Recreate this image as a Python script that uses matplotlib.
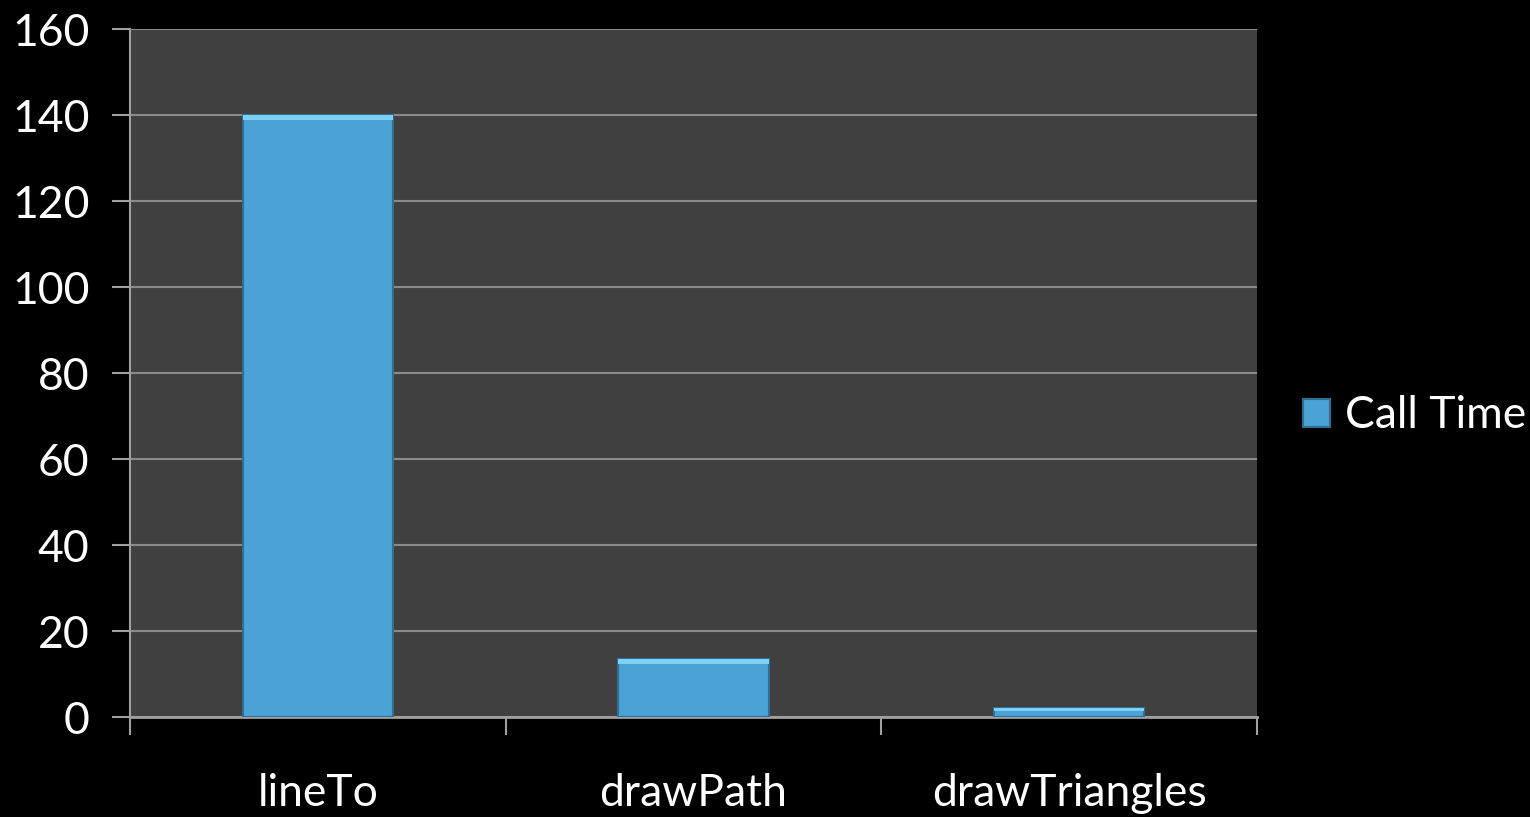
import numpy as np
import matplotlib
matplotlib.use("Agg")
import matplotlib.pyplot as plt

# data
categories = ["lineTo", "drawPath", "drawTriangles"]
call_time = [140, 13.5, 2.2]
series_name = "Call Time"

plt.rcParams['font.family'] = ['Lato', 'DejaVu Sans']

fig = plt.figure(figsize=(15.3, 8.17), dpi=100, facecolor="black")
ax = fig.add_axes([130/1530, 100/817, 1127/1530, 688/817])
ax.set_facecolor("#404040")

x = np.arange(len(categories))
bars = ax.bar(x, call_time, width=0.4, color="#4aa2d5", edgecolor="#2f6f93",
              linewidth=1.5, label=series_name, zorder=3)
# light bevel band on top of each bar
for b in bars:
    h = b.get_height()
    ax.bar(b.get_x() + b.get_width()/2, min(1.2, h*0.35), bottom=h - min(1.2, h*0.35),
           width=b.get_width(), color="#7fd0f5", linewidth=0, zorder=4)

ax.set_xlim(-0.5, len(categories) - 0.5)
ax.set_ylim(0, 160)
ax.set_yticks(np.arange(0, 161, 20))
ax.yaxis.grid(True, color="#8a8a8a", linewidth=1.5, zorder=0)
ax.set_axisbelow(True)

ax.set_xticks(x)
ax.set_xticklabels(categories)
ax.set_xticks(np.arange(-0.5, len(categories), 1.0), minor=True)
ax.tick_params(axis="x", which="major", length=0, pad=40, labelsize=32, labelcolor="white")
ax.tick_params(axis="x", which="minor", length=13, width=1.5, color="#a0a0a0")
ax.tick_params(axis="y", length=13, width=1.5, color="#a0a0a0", labelsize=32,
               labelcolor="white", pad=16)

for s in ["top", "right"]:
    ax.spines[s].set_visible(False)
ax.spines["left"].set_color("#a0a0a0")
ax.spines["left"].set_linewidth(1.5)
ax.spines["bottom"].set_color("#a0a0a0")
ax.spines["bottom"].set_linewidth(2)

leg = fig.legend(handles=[bars], labels=[series_name], loc="center left",
                 bbox_to_anchor=(1303/1530, 1 - 416/817), frameon=False,
                 fontsize=32, labelcolor="white", handlelength=0.6,
                 handleheight=0.6, handletextpad=0.35, borderpad=0, borderaxespad=0)

fig.savefig("out.png", dpi=100, facecolor="black")
